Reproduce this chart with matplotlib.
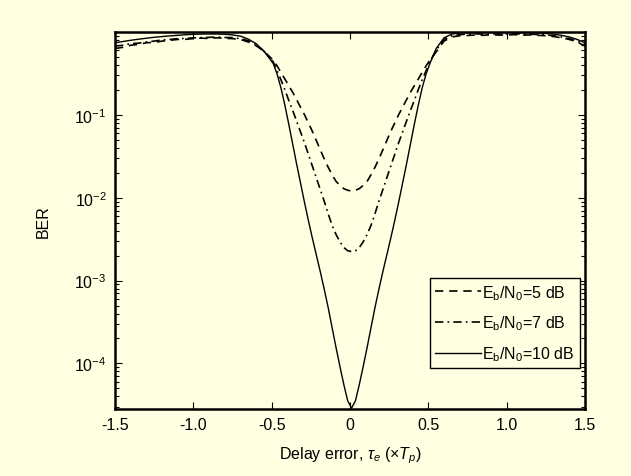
import numpy as np
import matplotlib
matplotlib.use("Agg")
import matplotlib.pyplot as plt

plt.rcParams['font.family'] = ['Liberation Sans', 'DejaVu Sans']
plt.rcParams['mathtext.fontset'] = 'custom'
plt.rcParams['mathtext.rm'] = 'Liberation Sans'
plt.rcParams['mathtext.it'] = 'Liberation Sans:italic'

BG = '#FFFFE2'

# delay error (x T_p)
tau = [-1.5, -1.45, -1.4, -1.35, -1.3, -1.25, -1.2, -1.15, -1.1, -1.05, -1.0, -0.95, -0.9, -0.85,
       -0.8, -0.75, -0.7, -0.65, -0.6, -0.55,
       -0.49, -0.465, -0.44, -0.415, -0.39, -0.365, -0.34, -0.315, -0.29, -0.265, -0.24, -0.215,
       -0.19, -0.165, -0.14, -0.115, -0.09, -0.065, -0.04, -0.015,
       0.01,
       0.035, 0.06, 0.085, 0.11, 0.135, 0.16, 0.185, 0.21, 0.235, 0.26, 0.285, 0.31, 0.335,
       0.36, 0.385, 0.41, 0.435, 0.46, 0.485, 0.51,
       0.55, 0.6, 0.65, 0.7, 0.75, 0.8, 0.85, 0.9, 0.95, 1.0, 1.05, 1.1, 1.15, 1.2, 1.25,
       1.3, 1.35, 1.4, 1.45, 1.5]

# log10(BER)
log_ber_10dB = [-0.13, -0.115, -0.10, -0.087, -0.075, -0.064, -0.055, -0.047, -0.04, -0.033, -0.028, -0.025, -0.024, -0.025,
                -0.027, -0.035, -0.05, -0.085, -0.14, -0.23,
                -0.38, -0.51, -0.68, -0.89, -1.12, -1.36, -1.60, -1.83, -2.06, -2.28, -2.49, -2.69,
                -2.89, -3.10, -3.32, -3.56, -3.80, -4.03, -4.25, -4.45,
                -4.54,
                -4.45, -4.25, -4.03, -3.80, -3.56, -3.32, -3.10, -2.89, -2.69, -2.49, -2.28, -2.06, -1.83,
                -1.60, -1.36, -1.12, -0.89, -0.68, -0.51, -0.38,
                -0.20, -0.07, -0.025, -0.012, -0.009, -0.008, -0.007, -0.007, -0.007, -0.007, -0.007, -0.008, -0.01, -0.012, -0.017,
                -0.025, -0.04, -0.06, -0.09, -0.13]

log_ber_7dB = [-0.17, -0.16, -0.14, -0.135, -0.12, -0.11, -0.095, -0.09, -0.08, -0.078, -0.07, -0.068, -0.065, -0.06,
               -0.066, -0.068, -0.08, -0.105, -0.15, -0.23,
               -0.36, -0.47, -0.58, -0.70, -0.83, -0.95, -1.08, -1.21, -1.34, -1.48, -1.62, -1.76,
               -1.90, -2.04, -2.19, -2.33, -2.44, -2.53, -2.60, -2.64,
               -2.65,
               -2.64, -2.60, -2.53, -2.44, -2.33, -2.19, -2.04, -1.90, -1.76, -1.62, -1.48, -1.34, -1.21,
               -1.08, -0.95, -0.83, -0.70, -0.58, -0.47, -0.36,
               -0.22, -0.09, -0.045, -0.03, -0.028, -0.022, -0.026, -0.02, -0.024, -0.022, -0.025, -0.022, -0.027, -0.03, -0.035,
               -0.045, -0.06, -0.08, -0.11, -0.15]

log_ber_5dB = [-0.20, -0.185, -0.16, -0.15, -0.13, -0.125, -0.11, -0.10, -0.09, -0.088, -0.08, -0.074, -0.078, -0.07,
               -0.076, -0.08, -0.09, -0.12, -0.165, -0.23,
               -0.34, -0.41, -0.49, -0.57, -0.65, -0.73, -0.82, -0.91, -1.00, -1.10, -1.20, -1.31,
               -1.42, -1.53, -1.63, -1.72, -1.80, -1.85, -1.89, -1.91,
               -1.92,
               -1.91, -1.89, -1.85, -1.80, -1.72, -1.63, -1.53, -1.42, -1.31, -1.20, -1.10, -1.00, -0.91,
               -0.82, -0.73, -0.65, -0.57, -0.49, -0.41, -0.34,
               -0.24, -0.11, -0.06, -0.045, -0.042, -0.036, -0.04, -0.033, -0.037, -0.035, -0.032, -0.038, -0.035, -0.04, -0.045,
               -0.055, -0.07, -0.09, -0.12, -0.17]

labels = [r'E$_\mathrm{b}$/N$_\mathrm{0}$=5 dB',
          r'E$_\mathrm{b}$/N$_\mathrm{0}$=7 dB',
          r'E$_\mathrm{b}$/N$_\mathrm{0}$=10 dB']

xticks = [-1.5, -1.0, -0.5, 0, 0.5, 1.0, 1.5]
xticklabels = ['-1.5', '-1.0', '-0.5', '0', '0.5', '1.0', '1.5']

fig = plt.figure(figsize=(6.31, 4.77), dpi=100, facecolor=BG)
ax = fig.add_axes([115/631, 1 - 410/477, 470/631, 377/477], facecolor=BG)

t = np.array(tau)
ax.plot(t, 10**np.array(log_ber_5dB), color='black', lw=1.2, ls=(0, (5, 3.5)), label=labels[0])
ax.plot(t, 10**np.array(log_ber_7dB), color='black', lw=1.2, ls=(0, (5, 2.5, 1, 2.5)), label=labels[1])
ax.plot(t, 10**np.array(log_ber_10dB), color='black', lw=1.0, ls='-', label=labels[2])

ax.set_yscale('log')
ax.set_xlim(-1.5, 1.5)
ax.set_ylim(10**-4.55, 1.0)
ax.set_yticks([1e-4, 1e-3, 1e-2, 1e-1])
ax.set_xticks(xticks)
ax.set_xticklabels(xticklabels)
ax.tick_params(which='both', direction='in', top=True, right=True, labelsize=11.5, pad=6)
ax.tick_params(which='major', length=5, width=0.8)
ax.tick_params(which='minor', length=3, width=0.8)
ax.yaxis.set_minor_locator(matplotlib.ticker.LogLocator(base=10, subs=np.arange(2, 10)))
ax.yaxis.set_minor_formatter(matplotlib.ticker.NullFormatter())
for s in ax.spines.values():
    s.set_linewidth(1.8)

ax.set_xlabel(r'Delay error, $\tau_e$ ($\times T_p$)', fontsize=11.5, labelpad=9)
ax.set_ylabel('BER', fontsize=11.5, labelpad=17)

leg = ax.legend(loc='lower right', bbox_to_anchor=(0.989, 0.109), fontsize=11.5,
                frameon=True, fancybox=False, edgecolor='black', facecolor=BG, framealpha=1,
                handlelength=2.9, handletextpad=0.1, labelspacing=0.75, borderpad=0.3,
                borderaxespad=0)
leg.get_frame().set_linewidth(1.0)

fig.savefig('out.png', dpi=100, facecolor=BG)
